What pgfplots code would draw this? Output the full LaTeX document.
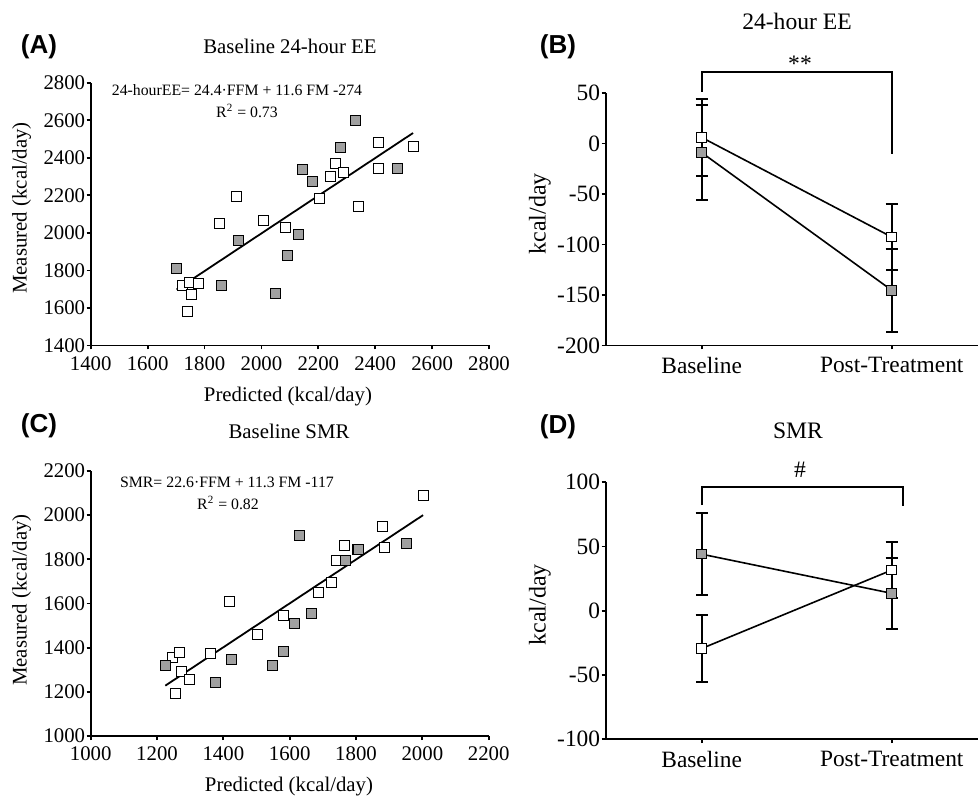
\documentclass[border=0pt]{standalone}
\usepackage{fontspec}
\setmainfont{Liberation Serif}
\newfontfamily\panelfont{Liberation Sans}
\usepackage{pgfplots}
\pgfplotsset{compat=1.18}
\definecolor{fillgray}{HTML}{A0A0A0}

% 1 px of the reference = 0.5pt
\pgfplotsset{
  panel/.style={
    scale only axis,
    axis lines=left,
    axis line style={-, line width=0.9pt, black},
    tick align=outside,
    major tick length=2pt,
    tick style={line width=0.9pt, black},
    /pgf/number format/assume math mode=true,
  },
  leftpanel/.style={
    panel,
    ticklabel style={font=\fontsize{10.4}{12}\selectfont},
    xticklabel style={inner sep=3.2pt},
    yticklabel style={inner sep=0.6pt},
  },
  rightpanel/.style={
    panel,
    ticklabel style={font=\fontsize{11.7}{13}\selectfont},
    xticklabel style={inner sep=3.8pt},
    yticklabel style={inner sep=0.6pt},
    xmin=-0.505, xmax=1.454,
    xtick={0,1}, xticklabels={Baseline,Post-Treatment},
    clip=false,
  },
  wsq/.style={only marks, mark=square*, mark size=2.5pt,
    mark options={fill=white, draw=black, line width=0.5pt}},
  gsq/.style={only marks, mark=square*, mark size=2.5pt,
    mark options={fill=fillgray, draw=black, line width=0.5pt}},
  meanline/.style={black, line width=0.8pt, mark=square*, mark size=2.4pt,
    error bars/y dir=both, error bars/y explicit,
    error bars/error bar style={line width=0.9pt, black},
    error bars/error mark options={rotate=90, mark size=3pt, line width=0.9pt, black}},
}

\begin{document}
\begin{tikzpicture}
\useasboundingbox (0,0) rectangle (489.5pt,399pt);

% ---------- (A) baseline 24-hour EE ----------
\begin{axis}[leftpanel,
    at={(45.35pt,226.25pt)}, anchor=south west,
    width=199.15pt, height=131.4pt,
    xmin=1400, xmax=2800, ymin=1400, ymax=2800,
    xtick={1400,1600,...,2800}, xticklabels={1400,1600,1800,2000,2200,2400,2600,2800},
    ytick={1400,1600,...,2800}, yticklabels={1400,1600,1800,2000,2200,2400,2600,2800},
  ]
  \addplot[wsq] coordinates {
    (1722,1717) (1747,1733) (1780,1728) (1756,1670) (1739,1583)
    (1852,2051) (1912,2195) (2008,2065) (2085,2030) (2203,2181)
    (2244,2299) (2261,2372) (2287,2320) (2343,2139) (2411,2484)
    (2413,2342) (2533,2458)
  };
  \addplot[gsq] coordinates {
    (1701,1811) (1859,1721) (1919,1961) (2048,1675) (2091,1880)
    (2130,1991) (2144,2336) (2179,2276) (2279,2453) (2331,2597)
    (2480,2342)
  };
  \addplot[black, line width=0.9pt] coordinates {(1702,1698) (2533,2532)};
\end{axis}

% ---------- (C) baseline SMR ----------
\begin{axis}[leftpanel,
    at={(45.35pt,31pt)}, anchor=south west,
    width=199pt, height=132.5pt,
    xmin=1000, xmax=2200, ymin=1000, ymax=2200,
    xtick={1000,1200,...,2200}, xticklabels={1000,1200,1400,1600,1800,2000,2200},
    ytick={1000,1200,...,2200}, yticklabels={1000,1200,1400,1600,1800,2000,2200},
  ]
  \addplot[wsq] coordinates {
    (1246,1356) (1267,1378) (1274,1293) (1297,1255) (1255,1194)
    (1361,1372) (1418,1609) (1504,1458) (1580,1544) (1688,1651)
    (1726,1695) (1742,1796) (1765,1862) (1803,1846) (1879,1948)
    (1885,1852) (2003,2091)
  };
  \addplot[gsq] coordinates {
    (1225,1318) (1376,1243) (1424,1348) (1549,1321) (1582,1384)
    (1615,1511) (1631,1908) (1665,1556) (1769,1794) (1807,1844)
    (1952,1870)
  };
  \addplot[black, line width=0.9pt] coordinates {(1225,1228) (2002,2000)};
\end{axis}

% ---------- (B) 24-hour EE change ----------
\begin{axis}[rightpanel,
    at={(302.85pt,226.25pt)}, anchor=south west,
    width=186.15pt, height=126.25pt,
    ymin=-200, ymax=50,
    ytick={-200,-150,...,50}, yticklabels={-200,-150,-100,-50,0,50},
  ]
  \addplot[black, line width=0.9pt] coordinates {(0,51) (0,70.4) (1,70.4) (1,-10.6)};
  \addplot[meanline, mark options={fill=fillgray, draw=black, line width=0.5pt}]
    coordinates {(0,-9) +- (0,47) (1,-145.3) +- (0,41)};
  \addplot[meanline, mark options={fill=white, draw=black, line width=0.5pt}]
    coordinates {(0,6) +- (0,38) (1,-92.6) +- (0,33)};
\end{axis}

% ---------- (D) SMR change ----------
\begin{axis}[rightpanel,
    at={(302.85pt,29.5pt)}, anchor=south west,
    width=186.15pt, height=128.35pt,
    ymin=-100, ymax=100,
    ytick={-100,-50,...,100}, yticklabels={-100,-50,0,50,100},
  ]
  \addplot[black, line width=0.9pt] coordinates {(0,82.3) (0,96.6) (1.06,96.6) (1.06,81.8)};
  \addplot[meanline, mark options={fill=fillgray, draw=black, line width=0.5pt}]
    coordinates {(0,44) +- (0,32) (1,13.5) +- (0,27.5)};
  \addplot[meanline, mark options={fill=white, draw=black, line width=0.5pt}]
    coordinates {(0,-29.5) +- (0,26) (1,31.6) +- (0,22)};
\end{axis}

% ---------- texts ----------
\begin{scope}[every node/.style={inner sep=0pt}]
  \node[font=\panelfont\bfseries\fontsize{13}{15}\selectfont] at (19.5pt,375.5pt) {(A)};
  \node[font=\panelfont\bfseries\fontsize{13}{15}\selectfont] at (19.5pt,186pt) {(C)};
  \node[font=\panelfont\bfseries\fontsize{13}{15}\selectfont] at (279pt,375.5pt) {(B)};
  \node[font=\panelfont\bfseries\fontsize{13}{15}\selectfont] at (279pt,185.5pt) {(D)};

  \node[font=\fontsize{10.4}{12}\selectfont] at (145pt,376pt) {Baseline 24-hour EE};
  \node[font=\fontsize{10.4}{12}\selectfont] at (144.5pt,183.5pt) {Baseline SMR};
  \node[font=\fontsize{11.8}{13}\selectfont] at (398.5pt,388.5pt) {24-hour EE};
  \node[font=\fontsize{11.8}{13}\selectfont] at (399pt,183.5pt) {SMR};

  \node[font=\fontsize{7.9}{9}\selectfont] at (118.5pt,354pt) {24-hourEE= 24.4·FFM + 11.6 FM -274};
  \node[font=\fontsize{7.9}{9}\selectfont] at (123.5pt,343.5pt) {R\textsuperscript{2} = 0.73};
  \node[font=\fontsize{7.9}{9}\selectfont] at (113.5pt,158pt) {SMR= 22.6·FFM + 11.3 FM -117};
  \node[font=\fontsize{7.9}{9}\selectfont] at (114pt,147.5pt) {R\textsuperscript{2} = 0.82};

  \node[font=\fontsize{10.4}{12}\selectfont] at (144pt,200.5pt) {Predicted (kcal/day)};
  \node[font=\fontsize{10.4}{12}\selectfont] at (144.5pt,5.5pt) {Predicted (kcal/day)};
  \node[font=\fontsize{10.4}{12}\selectfont, rotate=90] at (10.85pt,295pt) {Measured (kcal/day)};
  \node[font=\fontsize{10.4}{12}\selectfont, rotate=90] at (10.85pt,99pt) {Measured (kcal/day)};
  \node[font=\fontsize{12}{14}\selectfont, rotate=90] at (270pt,292pt) {kcal/day};
  \node[font=\fontsize{12}{14}\selectfont, rotate=90] at (270pt,96.5pt) {kcal/day};

  \node[font=\fontsize{11.8}{13}\selectfont] at (400pt,367pt) {**};
  \node[font=\fontsize{11.8}{13}\selectfont] at (400pt,164pt) {\#};
\end{scope}
\end{tikzpicture}
\end{document}
